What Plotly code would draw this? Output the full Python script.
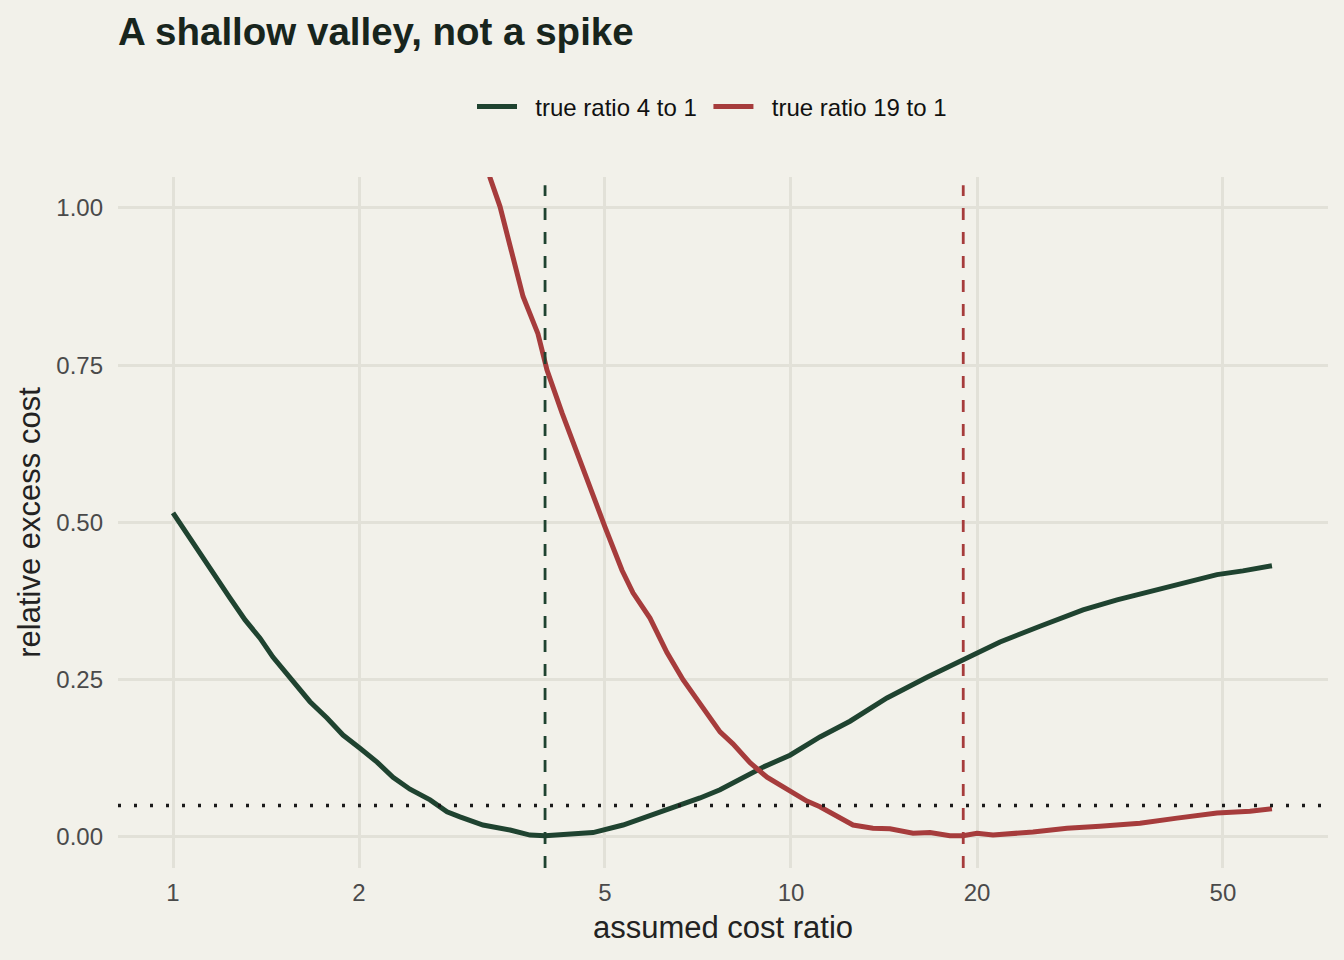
import plotly.graph_objects as go

# assumed cost ratio (x) and relative excess cost (y)
green_x = [1.00, 1.077, 1.161, 1.236, 1.308, 1.383, 1.451, 1.564, 1.666, 1.775, 1.884,
           2.007, 2.139, 2.270, 2.418, 2.606, 2.776, 2.913, 3.174, 3.511, 3.782, 4.000,
           4.506, 4.783, 5.349, 5.761, 6.208, 6.688, 7.126, 7.677, 8.585, 9.010, 9.963,
           11.14, 12.46, 14.30, 16.60, 18.98, 21.79, 25.29, 29.69, 33.70, 38.10, 43.09,
           48.91, 53.87, 60.02]
green_y = [0.515, 0.467, 0.420, 0.380, 0.345, 0.316, 0.286, 0.246, 0.215, 0.189, 0.162,
           0.141, 0.119, 0.095, 0.076, 0.059, 0.040, 0.032, 0.019, 0.011, 0.003, 0.002,
           0.006, 0.007, 0.019, 0.030, 0.040, 0.051, 0.062, 0.075, 0.099, 0.111, 0.130,
           0.159, 0.184, 0.221, 0.254, 0.281, 0.310, 0.335, 0.361, 0.377, 0.390, 0.404,
           0.417, 0.423, 0.431]

red_x = [3.06, 3.258, 3.382, 3.536, 3.685, 3.895, 4.029, 4.261, 4.506, 4.729, 5.000,
         5.328, 5.551, 5.913, 6.30, 6.688, 7.204, 7.677, 8.055, 8.585, 9.146, 9.851,
         10.61, 11.14, 11.87, 12.60, 13.57, 14.46, 15.76, 16.79, 18.08, 18.98, 20.00,
         21.23, 24.64, 27.97, 31.62, 36.71, 42.14, 48.91, 55.30, 60.02]
red_y = [1.190, 1.048, 1.002, 0.928, 0.859, 0.800, 0.742, 0.674, 0.610, 0.552, 0.493,
         0.424, 0.388, 0.348, 0.293, 0.250, 0.207, 0.167, 0.148, 0.118, 0.095, 0.075,
         0.057, 0.048, 0.032, 0.019, 0.014, 0.013, 0.006, 0.007, 0.002, 0.002, 0.006,
         0.003, 0.008, 0.014, 0.017, 0.022, 0.030, 0.038, 0.041, 0.045]

x_ticks = [1, 2, 5, 10, 20, 50]
y_ticks = [0.0, 0.25, 0.5, 0.75, 1.0]
y_tick_labels = ["0.00", "0.25", "0.50", "0.75", "1.00"]
true_ratios = [4, 19]
threshold = 0.05

GREEN = "#1f4330"
RED = "#a63c3c"
BG = "#f2f1ea"
GRID = "#e2e1d8"
FONT = "Liberation Sans, Arial, sans-serif"
NB = "\u00a0"

fig = go.Figure()
fig.add_trace(go.Scatter(x=green_x, y=green_y, mode="lines",
                         name=NB * 2 + "true ratio 4 to 1" + NB * 1,
                         line=dict(color=GREEN, width=5)))
fig.add_trace(go.Scatter(x=red_x, y=red_y, mode="lines",
                         name=NB * 2 + "true ratio 19 to 1",
                         line=dict(color=RED, width=5)))

fig.add_shape(type="line", xref="paper", yref="y", x0=0, x1=1, y0=threshold, y1=threshold,
              line=dict(color="#1a1a1a", width=3.5, dash="3px,13px"))
for r, c in zip(true_ratios, [GREEN, RED]):
    fig.add_shape(type="line", xref="x", yref="paper", x0=r, x1=r, y0=0, y1=0.988,
                  line=dict(color=c, width=2.8, dash="12px,12px"))

fig.update_layout(
    width=1344, height=960,
    paper_bgcolor=BG, plot_bgcolor=BG,
    margin=dict(l=118, r=16, t=177, b=92),
    font=dict(family=FONT, color="#222222"),
    title=dict(text="<b>A shallow valley, not a spike</b>", x=118/1344, xref="container",
               xanchor="left", y=1-32/960, yref="container", yanchor="middle",
               font=dict(size=38.5, color="#18251d", family=FONT)),
    legend=dict(orientation="h", x=(712-118)/1210, xanchor="center", xref="paper",
                y=1-107/960, yref="container", yanchor="middle",
                font=dict(size=24, color="#111111"), bgcolor="rgba(0,0,0,0)",
                itemwidth=40, tracegroupgap=0),
    showlegend=True,
)
fig.update_xaxes(type="log", range=[-0.089, 1.869], tickvals=x_ticks,
                 ticktext=[str(t) for t in x_ticks],
                 showgrid=True, gridcolor=GRID, gridwidth=2.5, zeroline=False, showline=False,
                 ticks="", ticklabelstandoff=8,
                 tickfont=dict(size=24, color="#4a4a4a"),
                 title=dict(text="assumed cost ratio", font=dict(size=31, color="#222222"),
                            standoff=11))
fig.update_yaxes(range=[-0.0493, 1.049], tickvals=y_ticks, ticktext=y_tick_labels,
                 showgrid=True, gridcolor=GRID, gridwidth=2.5, zeroline=False, showline=False,
                 ticks="", ticklabelstandoff=14,
                 tickfont=dict(size=24, color="#4a4a4a"),
                 title=dict(text="relative excess cost", font=dict(size=31, color="#222222"),
                            standoff=6))

fig.write_html("out.html")
